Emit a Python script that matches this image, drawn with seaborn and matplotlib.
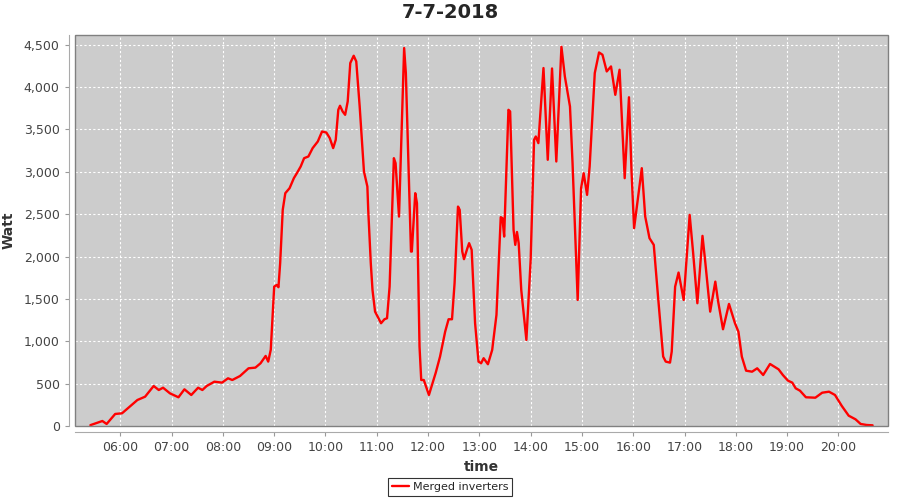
import matplotlib
matplotlib.use('Agg')
import matplotlib.pyplot as plt
import matplotlib.dates as mdates
from matplotlib.ticker import FuncFormatter, MultipleLocator
from matplotlib.patches import Rectangle
import pandas as pd
import seaborn as sns

DAY = '2018-07-07'
TITLE = '7-7-2018'
SERIES = 'Merged inverters'

# readings (time of day, watt)
times = [
    '05:25', '05:39', '05:44', '05:54', '06:02', '06:20', '06:29', '06:39', '06:45', '06:50',
    '06:58', '07:08', '07:15', '07:23', '07:31', '07:36', '07:41', '07:50', '07:59', '08:06',
    '08:11', '08:20', '08:30', '08:38', '08:44', '08:50', '08:53', '08:56', '09:00', '09:03',
    '09:05', '09:07', '09:10', '09:13', '09:18', '09:23', '09:27', '09:31', '09:35', '09:40',
    '09:45', '09:51', '09:56', '10:01', '10:05', '10:09', '10:12', '10:15', '10:17', '10:20',
    '10:23', '10:26', '10:29', '10:33', '10:36', '10:40', '10:43', '10:45', '10:49', '10:50',
    '10:53', '10:55', '10:58', '11:01', '11:05', '11:09', '11:12', '11:15', '11:20', '11:22',
    '11:26', '11:32', '11:34', '11:40', '11:41', '11:45', '11:47', '11:50', '11:52', '11:55',
    '12:01', '12:09', '12:14', '12:20', '12:24', '12:28', '12:31', '12:35', '12:37', '12:40',
    '12:42', '12:46', '12:48', '12:51', '12:55', '12:59', '13:02', '13:05', '13:10', '13:15',
    '13:20', '13:25', '13:27', '13:29', '13:34', '13:36', '13:40', '13:42', '13:44', '13:46',
    '13:49', '13:55', '14:00', '14:04', '14:06', '14:09', '14:15', '14:20', '14:25', '14:30',
    '14:36', '14:40', '14:43', '14:46', '14:49', '14:55', '14:59', '15:02', '15:06', '15:09',
    '15:15', '15:20', '15:24', '15:29', '15:34', '15:39', '15:44', '15:50', '15:55', '15:58',
    '16:01', '16:10', '16:14', '16:19', '16:24', '16:29', '16:35', '16:38', '16:43', '16:45',
    '16:49', '16:53', '16:59', '17:06', '17:10', '17:15', '17:21', '17:24', '17:30', '17:36',
    '17:39', '17:45', '17:52', '17:59', '18:03', '18:07', '18:12', '18:19', '18:25', '18:32',
    '18:40', '18:50', '18:55', '19:01', '19:06', '19:10', '19:15', '19:22', '19:33', '19:41',
    '19:49', '19:56', '20:04', '20:12', '20:20', '20:26', '20:33', '20:40',
]
watts = [
    10, 59, 24, 142, 150, 307, 346, 472, 425, 452,
    386, 339, 433, 366, 452, 425, 472, 523, 512, 563,
    543, 590, 681, 689, 740, 827, 760, 900, 1645, 1665,
    1638, 1925, 2551, 2748, 2807, 2925, 2992, 3063, 3161, 3181,
    3280, 3358, 3476, 3464, 3398, 3280, 3378, 3732, 3780, 3713,
    3673, 3831, 4284, 4370, 4303, 3771, 3299, 3004, 2826, 2551,
    1921, 1606, 1350, 1291, 1213, 1260, 1272, 1645, 3161, 3102,
    2472, 4461, 4166, 2059, 2059, 2748, 2630, 937, 543, 543,
    366, 630, 819, 1114, 1260, 1260, 1685, 2590, 2551, 2059,
    1969, 2099, 2158, 2079, 1213, 760, 740, 800, 729, 898,
    1311, 2465, 2453, 2236, 3732, 3713, 2315, 2138, 2290, 2158,
    1606, 1016, 1961, 3378, 3417, 3339, 4225, 3142, 4220, 3122,
    4476, 4126, 3948, 3771, 3102, 1488, 2807, 2984, 2728, 3063,
    4166, 4409, 4382, 4185, 4244, 3909, 4205, 2925, 3880, 3000,
    2335, 3043, 2472, 2217, 2138, 1527, 820, 760, 748, 878,
    1645, 1811, 1488, 2492, 2050, 1449, 2244, 1961, 1350, 1704,
    1488, 1142, 1441, 1213, 1114, 819, 653, 641, 681, 602,
    732, 669, 602, 535, 512, 445, 417, 339, 334, 393,
    405, 366, 236, 122, 79, 24, 12, 8,
]

df = pd.DataFrame({
    'time': pd.to_datetime([f'{DAY} {t}' for t in times]),
    'watt': watts,
})

sns.set_style('white')
plt.rcParams['font.family'] = ['DejaVu Sans']

fig = plt.figure(figsize=(9, 5), dpi=100)
ax = fig.add_axes([75 / 900, 1 - 426 / 500, 813 / 900, 391 / 500])
ax.set_facecolor('#cccccc')

sns.lineplot(data=df, x='time', y='watt', ax=ax, color='#ff0000',
             linewidth=1.7, label=SERIES, legend=False)

ax.set_xlim(pd.Timestamp(f'{DAY} 05:07'), pd.Timestamp(f'{DAY} 20:58'))
ax.set_ylim(0, 4615)
ax.xaxis.set_major_locator(mdates.HourLocator())
ax.xaxis.set_major_formatter(mdates.DateFormatter('%H:%M'))
ax.yaxis.set_major_locator(MultipleLocator(500))
ax.yaxis.set_major_formatter(FuncFormatter(lambda v, p: f'{int(v):,}'))

ax.grid(True, color='white', linestyle=(0, (2, 2)), linewidth=0.8)
ax.tick_params(axis='both', labelsize=9, labelcolor='#444444', color='#999999',
               length=3, width=0.8, bottom=True, left=True, pad=4)

for side in ['top', 'right']:
    ax.spines[side].set_visible(False)
for side in ['left', 'bottom']:
    ax.spines[side].set_position(('outward', 4))
    ax.spines[side].set_color('#aaaaaa')
    ax.spines[side].set_linewidth(0.8)
ax.add_patch(Rectangle((0, 0), 1, 1, transform=ax.transAxes, fill=False,
                       edgecolor='#808080', linewidth=1, clip_on=False, zorder=5))

ax.set_xlabel('time', fontsize=10, fontweight='bold', color='#333333', labelpad=4)
ax.set_ylabel('Watt', fontsize=10, fontweight='bold', color='#333333', labelpad=6)
fig.suptitle(TITLE, fontsize=14, fontweight='bold', x=0.5, y=0.995, va='top')

handles, labels = ax.get_legend_handles_labels()
leg = fig.legend(handles, labels, loc='lower center', bbox_to_anchor=(0.5, 0.0),
                 fontsize=8, frameon=True, fancybox=False, edgecolor='black',
                 handlelength=1.6, handletextpad=0.3, borderpad=0.35,
                 borderaxespad=0.4)
leg.get_frame().set_linewidth(0.8)

fig.savefig('out.png', dpi=100)
plt.close(fig)
